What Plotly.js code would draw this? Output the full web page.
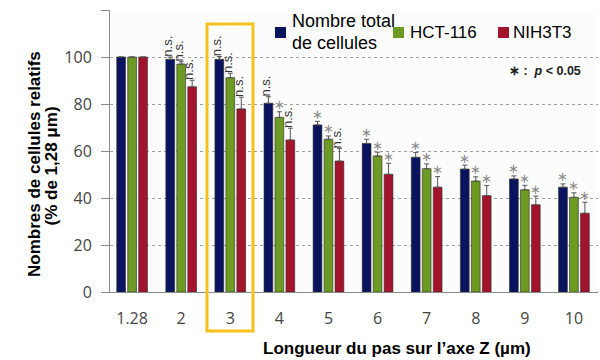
<!DOCTYPE html>
<html>
<head>
<meta charset="utf-8">
<script src="https://cdn.plot.ly/plotly-3.0.1.min.js"></script>
<style>html,body{margin:0;padding:0;background:#fff}#chart{width:600px;height:360px}</style>
</head>
<body>
<div id="chart"></div>
<script>
// ---- data ----
var categories = ['1.28', '2', '3', '4', '5', '6', '7', '8', '9', '10'];
var seriesNames = ['Nombre total de cellules', 'HCT-116', 'NIH3T3'];
var totalVals = [100, 99, 99, 80.3, 71.1, 63.2, 57.3, 52.3, 48.1, 44.6];
var hctVals   = [100, 97, 91.2, 74.3, 65, 57.9, 52.5, 47.2, 43.5, 40.3];
var nihVals   = [100, 87.3, 77.9, 64.7, 55.7, 50.1, 44.6, 41, 37.1, 33.5];
var totalErr  = [0, 1, 1.2, 2.8, 1.5, 1.8, 2.1, 1.7, 1.3, 1.4];
var hctErr    = [0, 1, 1.9, 2.4, 1.4, 1.6, 2, 1.8, 1.9, 1.9];
var nihErr    = [0, 2.8, 5, 5, 5.4, 4.7, 4.5, 4.3, 3.7, 4.7];
var totalSig  = ['', 'n.s.', 'n.s.', 'n.s.', '*', '*', '*', '*', '*', '*'];
var hctSig    = ['', 'n.s.', 'n.s.', '*', '*', '*', '*', '*', '*', '*'];
var nihSig    = ['', 'n.s.', 'n.s.', 'n.s.', 'n.s.', '*', '*', '*', '*', '*'];
var highlightCategory = '3';

// ---- styling ----
var colors = ['#0a145e', '#6d9a22', '#a3132c'];
var vals = [totalVals, hctVals, nihVals];
var errs = [totalErr, hctErr, nihErr];
var sigs = [totalSig, hctSig, nihSig];
var shifts = [-11, 0, 11];
var boldFont = 'Liberation Sans, Arial, sans-serif';

var traces = vals.map(function (v, i) {
  return {
    type: 'bar', x: categories, y: v, name: seriesNames[i],
    marker: {color: colors[i], line: {color: '#2a2a2a', width: 0.6}},
    error_y: {type: 'data', array: errs[i], arrayminus: errs[i].map(function(){return 0;}),
              symmetric: false, color: '#555', thickness: 1, width: 2.5},
    showlegend: false, hoverinfo: 'skip'
  };
});

var annotations = [];
sigs.forEach(function (s, i) {
  s.forEach(function (lab, j) {
    if (!lab) return;
    var top = vals[i][j] + errs[i][j];
    // numeric x = category index (category names look like numbers)
    if (lab === 'n.s.') {
      annotations.push({x: j, y: top, xref: 'x', yref: 'y', text: 'n.s.',
        textangle: -90, showarrow: false, xanchor: 'center', yanchor: 'bottom',
        xshift: shifts[i] - 3, yshift: -2,
        font: {family: boldFont, size: 13, color: '#333'}});
    } else {
      annotations.push({x: j, y: top, xref: 'x', yref: 'y', text: '∗',
        showarrow: false, xanchor: 'center', yanchor: 'middle',
        xshift: shifts[i], yshift: 7,
        font: {family: 'DejaVu Sans, sans-serif', size: 13, color: '#8a8a8a'}});
    }
  });
});

// plot area: x 110..598 px, y 10..292 px
function px(xp) { return (xp - 110) / 488; }
function py(yp) { return (292 - yp) / 282; }

// manual legend
var legendItems = [
  {sq: 275, tx: 290, lines: ['Nombre total', 'de cellules']},
  {sq: 393, tx: 408, lines: ['HCT-116']},
  {sq: 498, tx: 511, lines: ['NIH3T3']}
];
var shapes = [];
legendItems.forEach(function (it, i) {
  shapes.push({type: 'rect', xref: 'paper', yref: 'paper',
    x0: px(it.sq), x1: px(it.sq + 11), y0: py(38), y1: py(27),
    fillcolor: colors[i], line: {width: 0}});
  if (it.lines.length === 2) {
    annotations.push({xref: 'paper', yref: 'paper', x: px(it.tx), y: py(21.5), text: it.lines[0],
      showarrow: false, xanchor: 'left', yanchor: 'middle', font: {family: boldFont, size: 18, color: '#000'}});
    annotations.push({xref: 'paper', yref: 'paper', x: px(it.tx), y: py(42.5), text: it.lines[1],
      showarrow: false, xanchor: 'left', yanchor: 'middle', font: {family: boldFont, size: 18, color: '#000'}});
  } else {
    annotations.push({xref: 'paper', yref: 'paper', x: px(it.tx), y: py(32.5), text: it.lines[0],
      showarrow: false, xanchor: 'left', yanchor: 'middle', font: {family: boldFont, size: 17, color: '#000'}});
  }
});

// significance note
annotations.push({xref: 'paper', yref: 'paper', x: px(583), y: py(71), xanchor: 'right', yanchor: 'middle',
  showarrow: false, text: '<b>∗ :  <i>p</i> < 0.05</b>', font: {family: boldFont, size: 12.5, color: '#222'}});

// axis titles
annotations.push({xref: 'paper', yref: 'paper', x: px(34), y: py(164), textangle: -90, showarrow: false,
  xanchor: 'center', yanchor: 'middle', text: '<b>Nombres de cellules relatifs</b>',
  font: {family: boldFont, size: 17, color: '#000'}});
annotations.push({xref: 'paper', yref: 'paper', x: px(50.5), y: py(166), textangle: -90, showarrow: false,
  xanchor: 'center', yanchor: 'middle', text: '<b>(% de 1,28 μm)</b>',
  font: {family: boldFont, size: 17, color: '#000'}});
annotations.push({xref: 'paper', yref: 'paper', x: px(397), y: py(348), showarrow: false,
  xanchor: 'center', yanchor: 'middle', text: '<b>Longueur du pas sur l’axe Z (µm)</b>',
  font: {family: boldFont, size: 17, color: '#000'}});

// highlight box around category 3
shapes.push({type: 'rect', xref: 'paper', yref: 'paper',
  x0: px(207), x1: px(253), y0: py(331), y1: py(24),
  line: {color: '#f5c21b', width: 3}, fillcolor: 'rgba(0,0,0,0)', layer: 'above'});

var layout = {
  width: 600, height: 360,
  margin: {l: 110, r: 2, t: 10, b: 68},
  paper_bgcolor: '#ffffff', plot_bgcolor: '#fcfcfc',
  barmode: 'group', bargap: 0.33, bargroupgap: 0.2,
  showlegend: false,
  xaxis: {type: 'category', range: [-0.45, 9.49], showgrid: false, showline: true,
    linecolor: '#8a8a8a', linewidth: 1, ticks: '', ticklabelstandoff: 12,
    tickfont: {family: 'Open Sans, sans-serif', size: 16, color: '#444'}, fixedrange: true},
  yaxis: {range: [0, 120], dtick: 20, showline: true, linecolor: '#8a8a8a', linewidth: 1,
    ticks: 'outside', ticklen: 8, tickcolor: '#8a8a8a', ticklabelstandoff: 6,
    showgrid: true, gridcolor: '#a0a0a0', griddash: '3px,3px', gridwidth: 1, zeroline: false,
    tickfont: {family: 'Open Sans, sans-serif', size: 16, color: '#444'}, fixedrange: true},
  annotations: annotations,
  shapes: shapes
};

Plotly.newPlot('chart', traces, layout, {staticPlot: true});
</script>
</body>
</html>
